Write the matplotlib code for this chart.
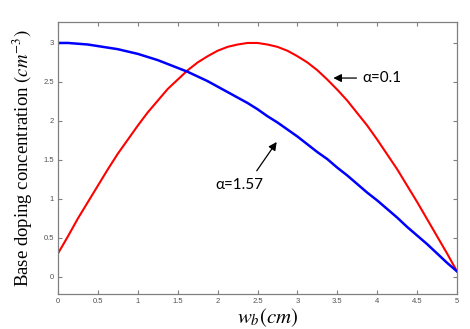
import matplotlib
matplotlib.use("Agg")
import matplotlib.pyplot as plt

# values (every 0.125 cm)
wb = [0.0, 0.125, 0.25, 0.375, 0.5, 0.625, 0.75, 0.875, 1.0, 1.125, 1.25,
      1.375, 1.5, 1.625, 1.75, 1.875, 2.0, 2.125, 2.25, 2.375, 2.5,
      2.625, 2.75, 2.875, 3.0, 3.125, 3.25, 3.375, 3.5, 3.625, 3.75,
      3.875, 4.0, 4.125, 4.25, 4.375, 4.5, 4.625, 4.75, 4.875, 5.0]
conc_a01 = [0.30, 0.52, 0.75, 0.96, 1.17, 1.38, 1.58, 1.76, 1.94, 2.11, 2.26,
            2.41, 2.53, 2.65, 2.75, 2.83, 2.90, 2.95, 2.98, 3.00, 3.00,
            2.98, 2.95, 2.90, 2.83, 2.75, 2.65, 2.53, 2.40, 2.26, 2.10,
            1.94, 1.76, 1.57, 1.38, 1.17, 0.96, 0.74, 0.52, 0.30, 0.07]
conc_a157 = [3.00, 3.00, 2.99, 2.98, 2.96, 2.94, 2.92, 2.89, 2.86, 2.82, 2.78,
             2.73, 2.68, 2.63, 2.57, 2.51, 2.44, 2.37, 2.30, 2.23, 2.15,
             2.06, 1.98, 1.89, 1.80, 1.70, 1.60, 1.51, 1.40, 1.30, 1.19,
             1.08, 0.98, 0.87, 0.76, 0.64, 0.53, 0.42, 0.30, 0.18, 0.07]
xticks = [0, 0.5, 1, 1.5, 2, 2.5, 3, 3.5, 4, 4.5, 5]
xtick_labels = ["0", "0.5", "1", "1.5", "2", "2.5", "3", "3.5", "4", "4.5", "5"]
yticks = [0, 0.5, 1, 1.5, 2, 2.5, 3]
ytick_labels = ["0", "0.5", "1", "1.5", "2", "2.5", "3"]

plt.rcParams["mathtext.fontset"] = "stix"

fig = plt.figure(figsize=(4.7, 3.29), dpi=100)
ax = fig.add_axes([0.1234, 0.1064, 0.849, 0.827])

ax.plot(wb, conc_a01, color="red", lw=1.5)
ax.plot(wb, conc_a157, color="blue", lw=1.8)

ax.set_xlim(0, 5)
ax.set_ylim(-0.22, 3.27)
ax.set_xticks(xticks)
ax.set_xticklabels(xtick_labels)
ax.set_yticks(yticks)
ax.set_yticklabels(ytick_labels)
ax.tick_params(direction="in", top=True, right=True, length=3, width=0.8,
               color="#808080", labelcolor="#505050", labelsize=5.5, pad=3)
for s in ax.spines.values():
    s.set_color("#808080")
    s.set_linewidth(0.9)
for lab in ax.get_xticklabels() + ax.get_yticklabels():
    lab.set_family("Liberation Sans")

ax.set_ylabel(r"Base doping concentration $(cm^{-3})$", family="Liberation Serif",
              fontsize=13.5, labelpad=6)
ax.set_xlabel(r"$w_b(cm)$", fontsize=15, labelpad=1)
ax.xaxis.set_label_coords(0.525, -0.045, transform=ax.transAxes)
ax.xaxis.label.set_va("top")

arrow = dict(arrowstyle="-|>", color="black", lw=0.9, mutation_scale=12,
             shrinkA=0, shrinkB=0)
ax.annotate("", xy=(3.45, 2.55), xytext=(3.74, 2.55), arrowprops=arrow)
ax.text(3.81, 2.55, "α=0.1", family="Lato", fontsize=11, va="center")
ax.annotate("", xy=(2.74, 1.73), xytext=(2.49, 1.36), arrowprops=arrow)
ax.text(1.97, 1.18, "α=1.57", family="Lato", fontsize=11, va="center")

fig.savefig("out.png", dpi=100)
